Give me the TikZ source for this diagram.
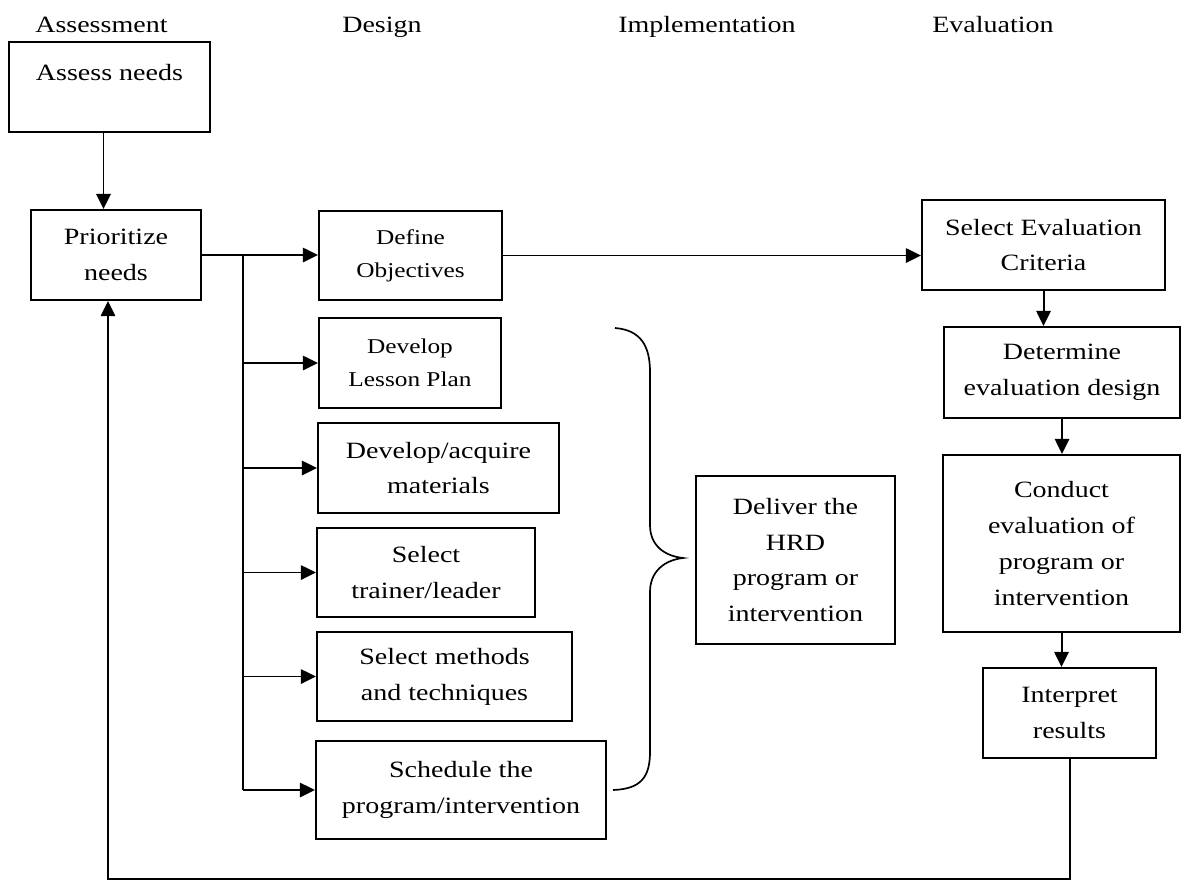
\documentclass[tikz,border=0pt]{standalone}
\usepackage{fontspec}
\setmainfont{Liberation Serif}[FakeStretch=1.2]
\usepackage{tikz}
\usetikzlibrary{arrows.meta, positioning, calc}
\tikzset{
	taskbox/.style  ={rectangle, draw=black, line width=1.4pt, align=center, inner sep=2pt, fill=white},
	header/.style   ={anchor=base west, inner sep=0pt},
	flowarrow/.style={-{Triangle[length=3.8mm, width=3.6mm]}, line width=1.4pt},
	flowline/.style ={line width=1.4pt},
	smalltxt/.style ={font=\fontsize{15}{23.5}\selectfont},
}

\begin{document}
\begin{tikzpicture}[x=0.025cm, y=-0.025cm, font=\fontsize{16.6}{25.5}\selectfont]
	\useasboundingbox (0,0) rectangle (1182,882);
	% phase headings
	\node[header] (hAssess) at (35,32) {Assessment};
	\node[header] (hDesign) at (342,32) {Design};
	\node[header] (hImpl)   at (618,32) {Implementation};
	\node[header] (hEval)   at (932,32) {Evaluation};
	% assessment
	\node[taskbox, minimum width=5.025cm, text height=0.88cm, text depth=1.23cm] (assess) at (109.5,87) {Assess needs};
	\node[taskbox, minimum width=4.25cm, minimum height=2.25cm] (prio) at (116,255) {Prioritize\\needs};
	% design
	\node[taskbox, smalltxt, minimum width=4.575cm, minimum height=2.225cm] (defobj) at (410.5,255.5) {Define\\Objectives};
	\node[taskbox, smalltxt, minimum width=4.55cm, minimum height=2.25cm] (lesson) at (410,363) {Develop\\Lesson Plan};
	\node[taskbox, minimum width=6.025cm, minimum height=2.25cm] (material) at (438.5,468) {Develop/acquire\\materials};
	\node[taskbox, minimum width=5.45cm, minimum height=2.225cm] (trainer) at (426,572.5) {Select\\trainer/leader};
	\node[taskbox, minimum width=6.375cm, minimum height=2.225cm] (methods) at (444.5,676.5) {Select methods\\and techniques};
	\node[taskbox, minimum width=7.25cm, minimum height=2.45cm] (sched) at (461,790) {Schedule the\\program/intervention};
	% implementation
	\node[taskbox, minimum width=4.975cm, minimum height=4.2cm] (deliver) at (795.5,560) {Deliver the\\HRD\\program or\\intervention};
	% evaluation
	\node[taskbox, minimum width=6.075cm, minimum height=2.25cm] (selcrit) at (1043.5,245) {Select Evaluation\\Criteria};
	\node[taskbox, minimum width=5.9cm, minimum height=2.275cm] (evaldesign) at (1062,372.5) {Determine\\evaluation design};
	\node[taskbox, minimum width=5.925cm, minimum height=4.425cm] (conduct) at (1061.5,543.5) {Conduct\\evaluation of\\program or\\intervention};
	\node[taskbox, minimum width=4.325cm, minimum height=2.25cm] (interp) at (1069.5,713) {Interpret\\results};

	\coordinate (fork) at (243,0);
	\coordinate (loopbase) at (0,879);

	% connectors
	\draw[flowarrow] ([xshift=-0.15cm]assess.south) -- ([xshift=-0.15cm]assess.south |- prio.north);
	\draw[flowarrow] (prio.east) -- (prio.east -| defobj.west);
	\draw[flowline] (prio.east -| fork) -- (sched.west -| fork);
	\foreach \t in {lesson, material, trainer, methods, sched}
		\draw[flowarrow] (\t.west -| fork) -- (\t.west);
	\draw[flowarrow] (defobj.east) -- (defobj.east -| selcrit.west);
	\draw[flowarrow] (selcrit.south) -- (selcrit.south |- evaldesign.north);
	\draw[flowarrow] (evaldesign.south) -- (evaldesign.south |- conduct.north);
	\draw[flowarrow] (conduct.south) -- (conduct.south |- interp.north);
	\draw[flowarrow] (interp.south) -- (interp.south |- loopbase) -| ([xshift=-0.2cm]prio.south);

	% brace
	\draw[line width=1.2pt] (615,328) .. controls (640,330) and (650,345) .. (650,372) -- (650,525)
		.. controls (650,546) and (665,556) .. (683,558)
		.. controls (665,560) and (650,571) .. (650,592) -- (650,752)
		.. controls (650,778) and (640,789) .. (613,790);
\end{tikzpicture}
\end{document}
